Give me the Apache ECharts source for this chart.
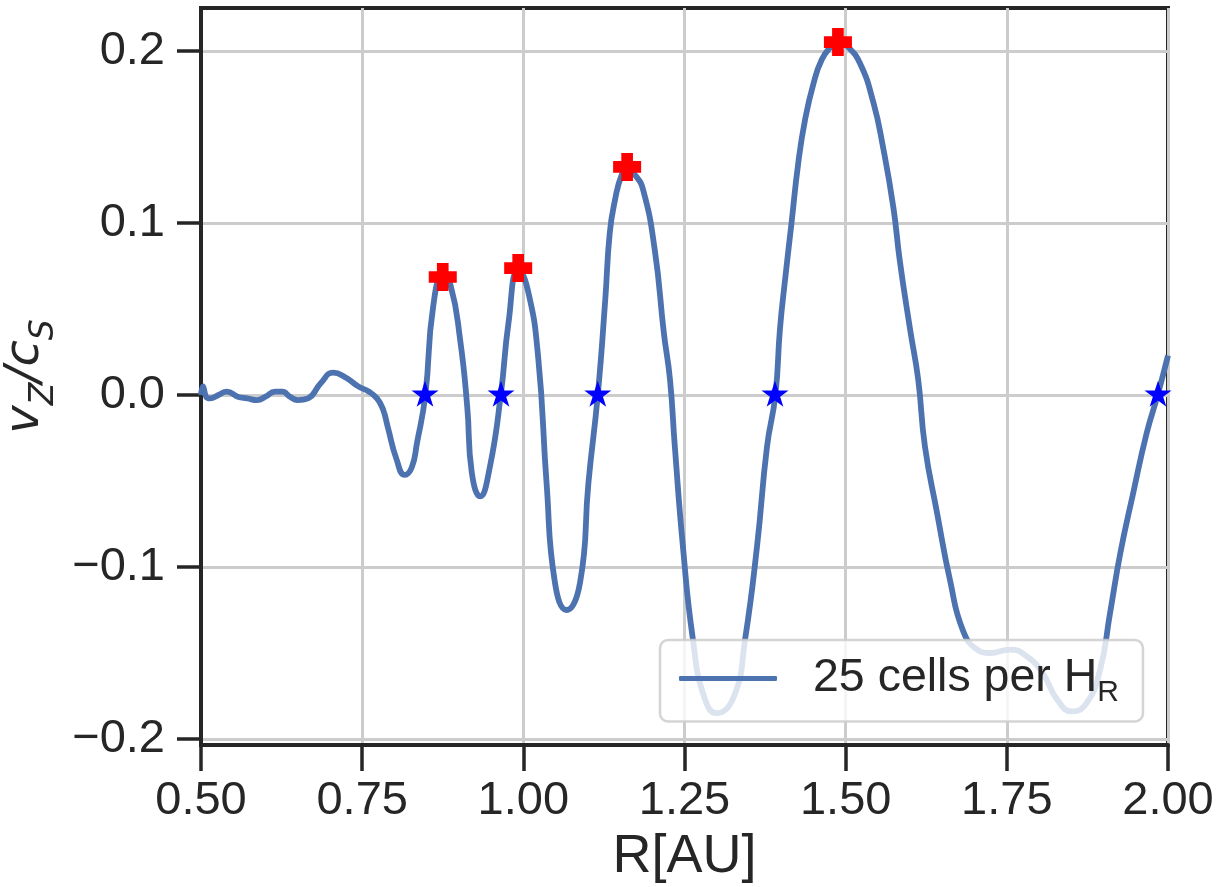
<!DOCTYPE html>
<html>
<head>
<meta charset="utf-8">
<script src="https://cdn.jsdelivr.net/npm/echarts@6/dist/echarts.min.js"></script>
<style>
html,body{margin:0;padding:0;background:#fff;}
#chart{width:1227px;height:887px;}
</style>
</head>
<body>
<div id="chart"></div>
<script>
// ---- data ----
const R = [0.500, 0.503, 0.508, 0.514, 0.527, 0.540, 0.557, 0.572, 0.587, 0.600,
  0.615, 0.626, 0.638, 0.650, 0.666, 0.686, 0.705, 0.725, 0.744, 0.760,
  0.773, 0.782, 0.790, 0.803, 0.816, 0.827, 0.835, 0.848, 0.860, 0.875,
  0.887, 0.902, 0.913, 0.920, 0.933, 0.948, 0.965, 0.977, 0.992, 1.007,
  1.023, 1.036, 1.049, 1.067, 1.088, 1.101, 1.1155, 1.127, 1.134, 1.142,
  1.1526, 1.161, 1.173, 1.186, 1.204, 1.218, 1.2275, 1.235, 1.2475, 1.263,
  1.280, 1.300, 1.327, 1.344, 1.3625, 1.378, 1.391, 1.398, 1.406, 1.416,
  1.4265, 1.437, 1.450, 1.463, 1.478, 1.488, 1.502, 1.522, 1.543, 1.558,
  1.574, 1.584, 1.600, 1.6125, 1.623, 1.642, 1.662, 1.682, 1.704, 1.724,
  1.755, 1.781, 1.806, 1.828, 1.851, 1.874, 1.8945, 1.910, 1.926, 1.946,
  1.967, 1.984, 2.000];
const VZ = [0.000, 0.005, -0.001, -0.002, 0.000, 0.002, -0.001, -0.002, -0.003, -0.001,
  0.002, 0.002, -0.001, -0.003, -0.002, 0.007, 0.013, 0.010, 0.005, 0.002,
  -0.002, -0.008, -0.019, -0.037, -0.0465, -0.042, -0.028, 0.000, 0.051, 0.069,
  0.064, 0.032, -0.007, -0.045, -0.059, -0.042, 0.000, 0.042, 0.073, 0.061,
  0.022, -0.051, -0.109, -0.125, -0.109, -0.051, 0.000, 0.055, 0.094, 0.113,
  0.128, 0.131, 0.128, 0.119, 0.084, 0.036, 0.009, -0.030, -0.088, -0.142,
  -0.175, -0.185, -0.175, -0.142, -0.088, -0.030, 0.000, 0.038, 0.067, 0.100,
  0.135, 0.160, 0.181, 0.195, 0.203, 0.206, 0.203, 0.193, 0.170, 0.144,
  0.109, 0.078, 0.038, 0.009, -0.030, -0.069, -0.108, -0.137, -0.148, -0.150,
  -0.148, -0.152, -0.162, -0.177, -0.184, -0.179, -0.160, -0.127, -0.092, -0.057,
  -0.022, 0.000, 0.023];
const peakR = [0.875, 0.992, 1.161, 1.488];
const peakV = [0.0686, 0.0738, 0.1326, 0.2052];
const zeroR = [0.8475, 0.9654, 1.1155, 1.3904, 1.9845];
const zeroV = [0, 0, 0, 0, 0];
const yTicks = [-0.2, -0.1, 0.0, 0.1, 0.2];
const seriesName = '25 cells per HR';

// ---- chart ----
const INK = '#262626';
const LINE = '#4C72B0';
const FONT = 'Liberation Sans, Arial, sans-serif';
const plusPath = 'path://M-1.25,-3L1.25,-3L1.25,-1.25L3,-1.25L3,1.25L1.25,1.25L1.25,3L-1.25,3L-1.25,1.25L-3,1.25L-3,-1.25L-1.25,-1.25Z';
const starPath = 'path://M0,-1L0.2245,-0.309L0.9511,-0.309L0.3633,0.118L0.5878,0.809L0,0.382L-0.5878,0.809L-0.3633,0.118L-0.9511,-0.309L-0.2245,-0.309Z';

const chart = echarts.init(document.getElementById('chart'), null, {renderer: 'canvas'});
chart.setOption({
  animation: false,
  backgroundColor: '#ffffff',
  grid: {left: 201, right: 59, top: 8, bottom: 142, show: true,
    outerBoundsMode: 'none', containLabel: false,
    borderColor: INK, borderWidth: 4, backgroundColor: 'transparent'},
  xAxis: {
    type: 'value', min: 0.5, max: 2.0, interval: 0.25,
    axisLine: {show: true, onZero: false, lineStyle: {color: INK, width: 4}},
    axisTick: {show: true, inside: false, length: 26, lineStyle: {color: INK, width: 3.5}},
    splitLine: {show: true, lineStyle: {color: '#cccccc', width: 3}},
    axisLabel: {color: INK, fontFamily: FONT, fontSize: 47, margin: 33,
      formatter: v => v.toFixed(2)},
    name: 'R[AU]', nameLocation: 'middle', nameGap: 76,
    nameTextStyle: {color: INK, fontFamily: FONT, fontSize: 54}
  },
  yAxis: {
    type: 'value', min: -0.2035, max: 0.225,
    axisLine: {show: true, onZero: false, lineStyle: {color: INK, width: 4}},
    axisTick: {show: true, inside: false, length: 24, customValues: yTicks,
      lineStyle: {color: INK, width: 3.5}},
    splitLine: {show: true, lineStyle: {color: '#cccccc', width: 3}},
    axisLabel: {color: INK, fontFamily: FONT, fontSize: 47, margin: 36,
      customValues: yTicks,
      formatter: v => (v < 0 ? '\u2212' : '') + Math.abs(v).toFixed(1)},
    name: '{m|v}{s|Z}{m|/c}{s|S}', nameLocation: 'middle', nameGap: 140, nameRotate: 90,
    nameTextStyle: {color: INK, rich: {
      m: {fontFamily: 'DejaVu Sans', fontStyle: 'italic', fontSize: 48, color: INK, lineHeight: 60, verticalAlign: 'middle'},
      s: {fontFamily: 'DejaVu Sans', fontStyle: 'italic', fontSize: 33, color: INK, lineHeight: 60, verticalAlign: 'bottom', padding: [0,0,-6,0]}
    }}
  },
  legend: {
    show: true, left: 660, top: 640, orient: 'horizontal',
    data: [{name: seriesName, icon: 'roundRect'}],
    itemWidth: 98, itemHeight: 5,
    padding: [15, 24, 14, 19],
    backgroundColor: 'rgba(255,255,255,0.8)',
    borderColor: 'rgba(204,204,204,0.85)', borderWidth: 2.5, borderRadius: 8,
    formatter: () => '{t|25 cells per H}{s|R}',
    textStyle: {color: INK, rich: {
      t: {fontFamily: FONT, fontSize: 46.5, color: INK, padding: [0, 0, 0, 31], lineHeight: 54, verticalAlign: 'middle'},
      s: {fontFamily: FONT, fontSize: 30, color: INK, lineHeight: 54, verticalAlign: 'bottom', padding: [0,0,-2,0]}
    }}
  },
  series: [
    {
      name: seriesName, type: 'line', symbol: 'none', smooth: 0.5,
      data: R.map((r, i) => [r, VZ[i]]),
      lineStyle: {color: LINE, width: 5.8},
      itemStyle: {color: LINE},
      z: 2, clip: true
    },
    {
      name: 'peaks', type: 'scatter', symbol: plusPath, symbolSize: 28,
      data: peakR.map((r, i) => [r, peakV[i]]),
      itemStyle: {color: '#ff0000', opacity: 1},
      z: 3
    },
    {
      name: 'zeros', type: 'scatter', symbol: starPath, symbolSize: [27, 26], symbolOffset: [0, -1.3],
      data: zeroR.map((r, i) => [r, zeroV[i]]),
      itemStyle: {color: '#0000ff', opacity: 1},
      z: 3, clip: true
    }
  ]
});
</script>
</body>
</html>
